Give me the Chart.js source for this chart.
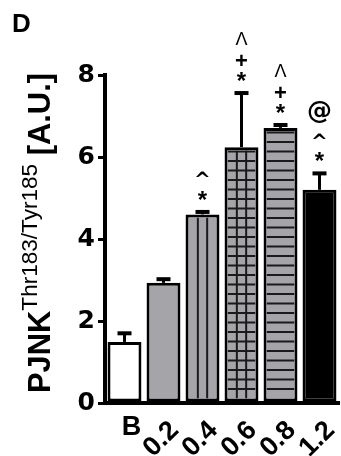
<!DOCTYPE html>
<html>
<head>
<meta charset="utf-8">
<script src="https://cdn.jsdelivr.net/npm/chart.js@4.4.1/dist/chart.umd.min.js"></script>
<style>
  html, body { margin: 0; padding: 0; background: #fff; }
  #wrap { width: 341px; height: 456px; position: relative; }
</style>
</head>
<body>
<div id="wrap"><canvas id="grafico"></canvas></div>
<script>
// datos
const categorias = ['B', '0.2', '0.4', '0.6', '0.8', '1.2'];
const medias = [1.49, 2.93, 4.60, 6.24, 6.71, 5.20];
const errores = [0.21, 0.09, 0.06, 1.32, 0.07, 0.40];
const marcas = [[], [], ['*', '^'], ['*', '+', 'Λ'], ['*', '+', 'Λ'], ['*', '^', '@']];
const rellenos = ['#ffffff', '#a4a4a9', '#a4a4a9', '#a4a4a9', '#a4a4a9', '#000000'];
const tramas = ['none', 'none', 'vert', 'grid', 'horiz', 'none'];
const ticksY = [0, 2, 4, 6, 8];

const FONT = 'Liberation Sans, Arial, sans-serif';
const FONT_ANCHA = 'DejaVu Sans, sans-serif';

// tramas dentro de las barras
const tramaPlugin = {
  id: 'trama',
  afterDatasetsDraw(chart) {
    const ctx = chart.ctx;
    const meta = chart.getDatasetMeta(0);
    meta.data.forEach((bar, i) => {
      const t = tramas[i];
      if (t === 'none') return;
      const p = bar.getProps(['x', 'y', 'base', 'width'], true);
      const bw = 3;
      const l = p.x - p.width / 2 + bw, r = p.x + p.width / 2 - bw;
      const top = p.y + bw, bot = p.base - bw;
      ctx.save();
      ctx.beginPath();
      ctx.rect(l, top, r - l, bot - top);
      ctx.clip();
      ctx.strokeStyle = '#1a1a1a';
      ctx.lineWidth = 2;
      ctx.beginPath();
      if (t === 'vert' || t === 'grid') {
        const w = (r - l) / 3;
        for (let k = 1; k < 3; k++) {
          ctx.moveTo(l + w * k, top);
          ctx.lineTo(l + w * k, bot);
        }
      }
      if (t === 'grid' || t === 'horiz') {
        for (let yy = bot - 9.5; yy > top; yy -= 9.5) {
          ctx.moveTo(l, yy);
          ctx.lineTo(r, yy);
        }
      }
      ctx.stroke();
      ctx.restore();
    });
  }
};

// barras de error, simbolos, etiquetas y titulo
const extrasPlugin = {
  id: 'extras',
  afterDraw(chart) {
    const ctx = chart.ctx;
    const ys = chart.scales.y;
    const area = chart.chartArea;
    const meta = chart.getDatasetMeta(0);

    meta.data.forEach((bar, i) => {
      const x = bar.x;
      const yBar = ys.getPixelForValue(medias[i]);
      const yTop = ys.getPixelForValue(medias[i] + errores[i]);
      ctx.save();
      ctx.strokeStyle = '#000';
      ctx.lineWidth = 3;
      ctx.beginPath();
      ctx.moveTo(x, yBar);
      ctx.lineTo(x, yTop);
      ctx.stroke();
      ctx.lineWidth = 4;
      ctx.beginPath();
      ctx.moveTo(x - 7, yTop);
      ctx.lineTo(x + 7, yTop);
      ctx.stroke();

      // simbolos de significancia
      ctx.fillStyle = '#000';
      ctx.textAlign = 'center';
      ctx.textBaseline = 'middle';
      let off = 16;
      marcas[i].forEach((m, k) => {
        if (k > 0) {
          off += m === '+' ? 15 : m === '^' ? 20 : m === 'Λ' ? 22 : 25;
        }
        let f = 'bold 22px ' + FONT, dy = 0;
        if (m === '*') { f = 'bold 24px ' + FONT; dy = 5; }
        if (m === '^') { f = 'bold 20px ' + FONT_ANCHA; dy = 5; }
        if (m === '+') { f = 'bold 22px ' + FONT; dy = 0; }
        if (m === 'Λ') { f = '18px ' + FONT; dy = 0; }
        if (m === '@') { f = 'bold 25px ' + FONT_ANCHA; dy = 0; }
        ctx.font = f;
        ctx.fillText(m, x, yTop - off + dy);
      });
      ctx.restore();

      // etiquetas del eje x
      ctx.save();
      ctx.fillStyle = '#000';
      ctx.font = 'bold 27px ' + FONT;
      if (i === 0) {
        ctx.textAlign = 'center';
        ctx.textBaseline = 'top';
        ctx.fillText(categorias[i], x + 7, area.bottom + 11);
      } else {
        ctx.translate(x + 11, area.bottom + 23);
        ctx.rotate(-Math.PI / 4);
        ctx.textAlign = 'right';
        ctx.textBaseline = 'middle';
        ctx.fillText(categorias[i], 0, 0);
      }
      ctx.restore();
    });

    // titulo del eje y con superindice
    ctx.save();
    ctx.fillStyle = '#000';
    const fMain = 'bold 26px ' + FONT, fSup = '19px ' + FONT;
    ctx.font = fMain;
    const w1 = ctx.measureText('PJNK').width;
    const w3 = ctx.measureText(' [A.U.]').width;
    ctx.font = fSup;
    const w2 = ctx.measureText('Thr183/Tyr185').width;
    const total = w1 + w2 + w3;
    const largo = 320;
    ctx.translate(50, 393);
    ctx.rotate(-Math.PI / 2);
    ctx.scale(largo / total, 1.2);
    ctx.textBaseline = 'alphabetic';
    ctx.textAlign = 'left';
    ctx.font = fMain;
    ctx.fillText('PJNK', 0, 0);
    ctx.font = fSup;
    ctx.fillText('Thr183/Tyr185', w1, -11);
    ctx.font = fMain;
    ctx.fillText(' [A.U.]', w1 + w2, 0);
    ctx.restore();

    // letra del panel
    ctx.save();
    ctx.fillStyle = '#000';
    ctx.font = 'bold 26px ' + FONT;
    ctx.textBaseline = 'alphabetic';
    ctx.fillText('D', 12, 32);
    ctx.restore();
  }
};

new Chart(document.getElementById('grafico'), {
  type: 'bar',
  data: {
    labels: categorias,
    datasets: [{
      data: medias,
      backgroundColor: rellenos,
      borderColor: '#000',
      borderWidth: 3,
      borderSkipped: false,
      barPercentage: 0.87,
      categoryPercentage: 1.0
    }]
  },
  options: {
    responsive: true,
    maintainAspectRatio: false,
    animation: false,
    events: [],
    layout: { padding: { top: 75, right: 2, left: 0, bottom: 0 } },
    plugins: {
      legend: { display: false },
      tooltip: { enabled: false },
      title: { display: false }
    },
    scales: {
      x: {
        grid: { display: false },
        border: { display: true, color: '#000', width: 4 },
        ticks: { display: false },
        afterFit: s => { s.height = 53; }
      },
      y: {
        min: 0,
        max: 8,
        afterBuildTicks: s => { s.ticks = ticksY.map(v => ({ value: v })); },
        grid: { display: true, drawOnChartArea: false, drawTicks: true, tickLength: 7, lineWidth: 3, color: '#000' },
        border: { display: true, color: '#000', width: 4 },
        ticks: { color: '#000', padding: 3, font: { family: FONT_ANCHA, size: 25, weight: 'bold' } },
        afterFit: s => { s.width = 105; }
      }
    }
  },
  plugins: [tramaPlugin, extrasPlugin]
});
</script>
</body>
</html>
